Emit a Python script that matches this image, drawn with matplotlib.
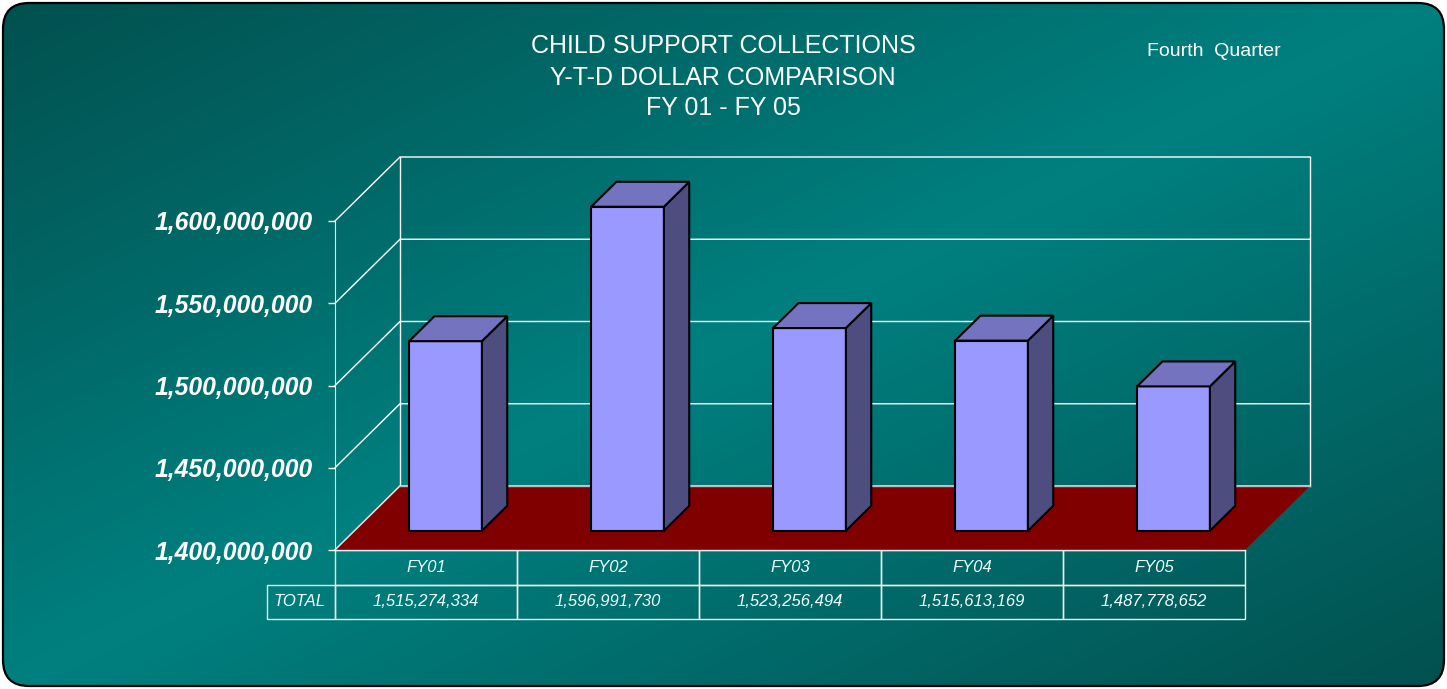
import numpy as np
import matplotlib
matplotlib.use("Agg")
import matplotlib.pyplot as plt
from matplotlib.patches import Polygon, FancyBboxPatch
from matplotlib.table import Table

years = ["FY01", "FY02", "FY03", "FY04", "FY05"]
totals = [1515274334, 1596991730, 1523256494, 1515613169, 1487778652]
y_ticks = [1400000000, 1450000000, 1500000000, 1550000000, 1600000000]
title_lines = ["CHILD SUPPORT COLLECTIONS", "Y-T-D DOLLAR COMPARISON", "FY 01 - FY 05"]
subtitle = "Fourth  Quarter"
row_label = "TOTAL"

W, H = 1447, 689
fig = plt.figure(figsize=(W / 100, H / 100), dpi=100, facecolor="white")

# background panel with diagonal teal gradient
bg = fig.add_axes([0, 0, 1, 1])
frame = FancyBboxPatch((3, 3), W - 6, H - 6, boxstyle="round,pad=0,rounding_size=26",
                       fc="none", ec="black", lw=1.6, zorder=3)
xx, yy = np.meshgrid(np.linspace(0, 1, W), np.linspace(0, 1, H))
t = 1 - np.abs(xx + yy - 1)
dark = np.array([2, 80, 78]) / 255
bright = np.array([0, 128, 128]) / 255
img = dark + (bright - dark) * t[..., None]
im = bg.imshow(img, extent=(0, W, H, 0), aspect="auto", zorder=1)
bg.add_patch(frame)
im.set_clip_path(frame)
bg.set_xlim(0, W)
bg.set_ylim(H, 0)
bg.axis("off")

# titles
for txt, yb in zip(title_lines, [53, 85, 115]):
    fig.text(723 / W, 1 - yb / H, txt, ha="center", va="baseline", fontsize=18,
             color="white", family="Liberation Sans")
fig.text(1214 / W, 1 - 56.5 / H, subtitle, ha="center", va="baseline", fontsize=14,
         color="white", family="Liberation Sans")

# front plane of the 3d chart
n = len(years)
ylo, yhi = y_ticks[0], y_ticks[-1]
ax = fig.add_axes([335 / W, (H - 550) / H, 910 / W, 329 / H])
ax.set_xlim(0, n)
ax.set_ylim(ylo, yhi)
ax.patch.set_visible(False)
for s in ["top", "right", "bottom"]:
    ax.spines[s].set_visible(False)
ax.spines["left"].set_color("white")
ax.set_xticks([])
ax.set_yticks(y_ticks, labels=[f"{v:,}" for v in y_ticks], fontsize=17.8,
              fontweight="bold", fontstyle="italic", family="Liberation Sans", color="white")
ax.tick_params(axis="y", colors="white", length=5, width=1, pad=11)

# depth vector (65px right, 64px up) in data units
p0 = ax.transData.transform((0, ylo))
p1 = ax.transData.inverted().transform(p0 + np.array([65, 64]))
DX, DY = p1[0], p1[1] - ylo


def P(x, y, z):
    return (x + z * DX, y + z * DY)


# walls
for v in y_ticks:
    pts = [P(0, v, 0), P(0, v, 1), P(n, v, 1)]
    ax.plot(*zip(*pts), color="white", lw=1, clip_on=False, zorder=1)
for xe in [0, n]:
    pts = [P(xe, ylo, 1), P(xe, yhi, 1)]
    ax.plot(*zip(*pts), color="white", lw=1, clip_on=False, zorder=1)

# floor
ax.add_patch(Polygon([P(0, ylo, 0), P(n, ylo, 0), P(n, ylo, 1), P(0, ylo, 1)],
                     fc="#800000", ec="none", clip_on=False, zorder=2))
ax.plot(*zip(P(0, ylo, 0), P(0, ylo, 1)), color="#e0e0e0", lw=1, clip_on=False, zorder=3)
ax.plot(*zip(P(0, ylo, 1), P(n, ylo, 1)), color="#b8b8b8", lw=1, clip_on=False, zorder=3)
ax.plot([0, n], [ylo, ylo], color="#e6f0f0", lw=1, clip_on=False, zorder=3)

# bars
z0, z1 = 0.3, 0.69
for i, v in enumerate(totals):
    x0, x1 = i + 0.3, i + 0.7
    faces = [
        ([P(x0, ylo, z0), P(x1, ylo, z0), P(x1, v, z0), P(x0, v, z0)], "#9999ff"),
        ([P(x1, ylo, z0), P(x1, ylo, z1), P(x1, v, z1), P(x1, v, z0)], "#4d4d80"),
        ([P(x0, v, z0), P(x1, v, z0), P(x1, v, z1), P(x0, v, z1)], "#7373bf"),
    ]
    for pts, c in faces:
        ax.add_patch(Polygon(pts, fc=c, ec="black", lw=1.5, joinstyle="miter",
                             clip_on=False, zorder=4))

# data table under the floor (bbox covers the data columns, row label sits left of it)
lab_w = 68 / 910
tbl = Table(ax, bbox=[0, -69 / 329, 1, 69 / 329])
for j, yr in enumerate(years):
    tbl.add_cell(0, j, width=1 / n, height=0.5, text=yr, loc="center", facecolor="none")
    tbl.add_cell(1, j, width=1 / n, height=0.5, text=f"{totals[j]:,}", loc="center",
                 facecolor="none")
tbl.add_cell(1, -1, width=lab_w, height=0.5, text=row_label, loc="left", facecolor="none")
tbl.auto_set_font_size(False)
tbl.set_fontsize(12)
for cell in tbl.get_celld().values():
    cell.set_edgecolor("#e6f0f0")
    cell.set_linewidth(1)
    cell.get_text().set(color="#f0ffff", fontstyle="italic", family="Liberation Sans")
ax.add_table(tbl)

fig.savefig("out.png", dpi=100, facecolor="white")
